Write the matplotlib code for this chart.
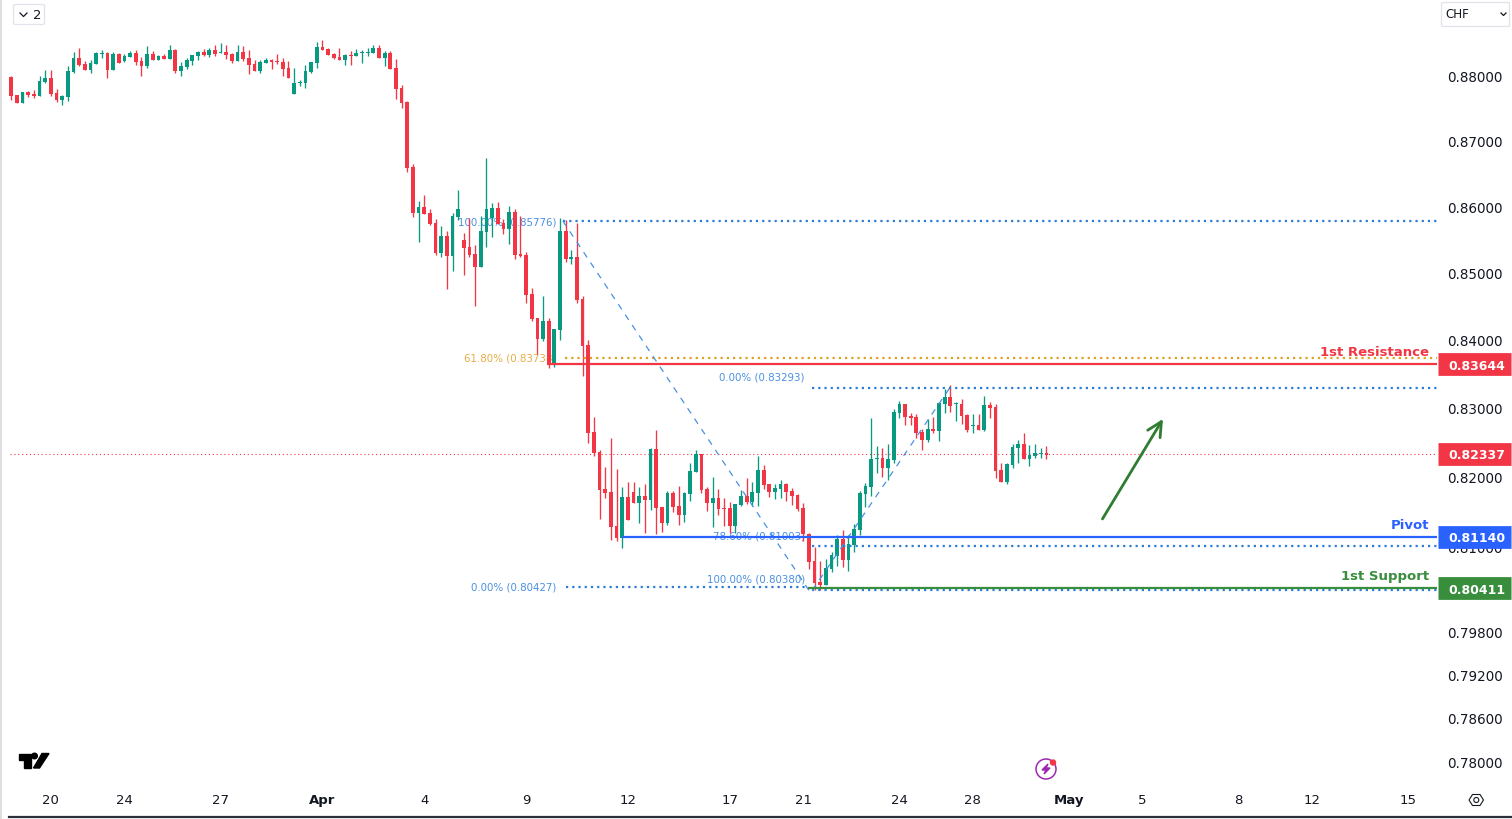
import matplotlib
matplotlib.use('Agg')
import matplotlib.pyplot as plt
import matplotlib.patches as patches
from matplotlib.lines import Line2D
import numpy as np

# 4h candles
opens = [
    0.87977, 0.87698, 0.87574, 0.87744, 0.87713, 0.87682, 0.87899, 0.87961, 0.87729, 0.87620,
    0.87667, 0.88054, 0.88271, 0.88178, 0.88085, 0.88178, 0.88333, 0.88348, 0.88085, 0.88333,
    0.88224, 0.88286, 0.88348, 0.88224, 0.88147, 0.88333, 0.88240, 0.88302, 0.88255, 0.88395,
    0.88070, 0.88132, 0.88224, 0.88302, 0.88364, 0.88317, 0.88395, 0.88348, 0.88364, 0.88333,
    0.88224, 0.88364, 0.88271, 0.88178, 0.88070, 0.88193, 0.88240, 0.88224, 0.88209, 0.88116,
    0.87713, 0.87884, 0.87884, 0.88054, 0.88193, 0.88441, 0.88410, 0.88333, 0.88286, 0.88240,
    0.88317, 0.88302, 0.88348, 0.88348, 0.88348, 0.88426, 0.88271, 0.88348, 0.88116, 0.87806,
    0.87589, 0.86596, 0.85897, 0.85987, 0.85897, 0.85746, 0.85294, 0.85551, 0.85249, 0.85837,
    0.85490, 0.85385, 0.85279, 0.85084, 0.85611, 0.85822, 0.85972, 0.85746, 0.85656, 0.85912,
    0.85279, 0.85264, 0.84680, 0.84324, 0.84012, 0.84279, 0.83632, 0.84146, 0.85626, 0.85204,
    0.85234, 0.84606, 0.83925, 0.82651, 0.82361, 0.81825, 0.81782, 0.81294, 0.81122, 0.81710,
    0.81782, 0.81624, 0.81725, 0.81667, 0.82404, 0.81567, 0.81337, 0.81768, 0.81581, 0.81452,
    0.81753, 0.82070, 0.82331, 0.81825, 0.81624, 0.81696, 0.81553, 0.81553, 0.81294, 0.81596,
    0.81725, 0.81639, 0.81768, 0.82099, 0.81897, 0.81782, 0.81825, 0.81897, 0.81796, 0.81739,
    0.81553, 0.81179, 0.80796, 0.80498, 0.80455, 0.80682, 0.80867, 0.81108, 0.80810, 0.81022,
    0.81237, 0.81753, 0.81853, 0.82260, 0.82275, 0.82130, 0.82246, 0.82927, 0.83059, 0.82884,
    0.82869, 0.82652, 0.82536, 0.82695, 0.82666, 0.83059, 0.83161, 0.83059, 0.83059, 0.82898,
    0.82738, 0.82753, 0.82681, 0.83044, 0.83015, 0.82101, 0.81925, 0.82173, 0.82420, 0.82478,
    0.82260, 0.82304, 0.82333, 0.82347,
]
highs = [
    0.87992, 0.87698, 0.87744, 0.87760, 0.87775, 0.87992, 0.88085, 0.88085, 0.87791, 0.87698,
    0.88147, 0.88364, 0.88426, 0.88224, 0.88240, 0.88364, 0.88395, 0.88364, 0.88364, 0.88348,
    0.88333, 0.88379, 0.88395, 0.88286, 0.88457, 0.88379, 0.88317, 0.88333, 0.88472, 0.88410,
    0.88209, 0.88271, 0.88317, 0.88379, 0.88410, 0.88426, 0.88472, 0.88503, 0.88472, 0.88348,
    0.88472, 0.88457, 0.88395, 0.88240, 0.88240, 0.88271, 0.88255, 0.88333, 0.88271, 0.88224,
    0.88116, 0.87930, 0.88162, 0.88209, 0.88519, 0.88550, 0.88426, 0.88348, 0.88426, 0.88333,
    0.88379, 0.88410, 0.88395, 0.88426, 0.88472, 0.88472, 0.88379, 0.88379, 0.88255, 0.87853,
    0.87605, 0.86642, 0.86079, 0.86170, 0.85957, 0.85806, 0.85701, 0.85626, 0.85897, 0.86246,
    0.85596, 0.85822, 0.85415, 0.85852, 0.86733, 0.86049, 0.86060, 0.85806, 0.86003, 0.85957,
    0.85852, 0.85310, 0.84769, 0.84324, 0.84650, 0.84324, 0.84160, 0.85822, 0.85791, 0.85340,
    0.85746, 0.84650, 0.83998, 0.82869, 0.82390, 0.82143, 0.82564, 0.82114, 0.81854, 0.81925,
    0.81925, 0.81854, 0.81897, 0.82419, 0.82680, 0.81567, 0.81796, 0.81796, 0.81868, 0.81782,
    0.82201, 0.82390, 0.82331, 0.81854, 0.81997, 0.81825, 0.81696, 0.81639, 0.81610, 0.81811,
    0.81983, 0.81925, 0.82302, 0.82172, 0.81897, 0.81897, 0.81954, 0.81911, 0.81839, 0.81753,
    0.81624, 0.81194, 0.80994, 0.80796, 0.80824, 0.80923, 0.81165, 0.81237, 0.81165, 0.81323,
    0.81796, 0.81911, 0.82855, 0.82449, 0.82420, 0.82478, 0.82985, 0.83103, 0.83059, 0.82927,
    0.82913, 0.82695, 0.82840, 0.82869, 0.83088, 0.83279, 0.83337, 0.83088, 0.83132, 0.82913,
    0.82913, 0.82913, 0.83176, 0.83088, 0.83059, 0.82203, 0.82203, 0.82478, 0.82536, 0.82637,
    0.82463, 0.82478, 0.82420, 0.82449,
]
lows = [
    0.87620, 0.87574, 0.87574, 0.87667, 0.87651, 0.87682, 0.87884, 0.87682, 0.87589, 0.87543,
    0.87605, 0.88039, 0.88147, 0.88085, 0.88039, 0.88178, 0.88271, 0.87961, 0.88085, 0.88193,
    0.88209, 0.88286, 0.88162, 0.87992, 0.88116, 0.88240, 0.88240, 0.88255, 0.88255, 0.88039,
    0.87992, 0.88101, 0.88162, 0.88240, 0.88302, 0.88286, 0.88302, 0.88348, 0.88255, 0.88193,
    0.88224, 0.88224, 0.88023, 0.88070, 0.88039, 0.88193, 0.88101, 0.88178, 0.87992, 0.87961,
    0.87713, 0.87837, 0.87806, 0.88039, 0.88116, 0.88395, 0.88317, 0.88255, 0.88240, 0.88162,
    0.88162, 0.88302, 0.88193, 0.88302, 0.88348, 0.88271, 0.88147, 0.88101, 0.87636, 0.87497,
    0.86520, 0.85837, 0.85460, 0.85882, 0.85716, 0.85264, 0.85234, 0.84754, 0.85024, 0.85791,
    0.84962, 0.85234, 0.84502, 0.85084, 0.85385, 0.85536, 0.85731, 0.85581, 0.85430, 0.85204,
    0.85234, 0.84546, 0.84279, 0.83793, 0.83984, 0.83588, 0.83603, 0.83998, 0.85159, 0.85129,
    0.84546, 0.83470, 0.82491, 0.82302, 0.81395, 0.81696, 0.81093, 0.81079, 0.80980, 0.81381,
    0.81624, 0.81337, 0.81194, 0.81524, 0.81179, 0.81208, 0.81309, 0.81495, 0.81309, 0.81352,
    0.81653, 0.82070, 0.81768, 0.81510, 0.81280, 0.81452, 0.81294, 0.81194, 0.81194, 0.81581,
    0.81610, 0.81581, 0.81581, 0.81825, 0.81710, 0.81682, 0.81696, 0.81653, 0.81596, 0.81510,
    0.81079, 0.80681, 0.80384, 0.80384, 0.80455, 0.80640, 0.80725, 0.80710, 0.80654, 0.80923,
    0.81165, 0.81567, 0.81725, 0.82057, 0.81997, 0.81954, 0.82203, 0.82855, 0.82753, 0.82753,
    0.82565, 0.82391, 0.82507, 0.82637, 0.82521, 0.82927, 0.82942, 0.82811, 0.82768, 0.82652,
    0.82637, 0.82681, 0.82666, 0.82855, 0.81983, 0.81925, 0.81897, 0.82130, 0.82203, 0.82260,
    0.82159, 0.82275, 0.82275, 0.82260,
]
closes = [
    0.87682, 0.87574, 0.87744, 0.87698, 0.87682, 0.87915, 0.87961, 0.87713, 0.87620, 0.87682,
    0.88070, 0.88271, 0.88162, 0.88085, 0.88193, 0.88348, 0.88348, 0.88085, 0.88333, 0.88193,
    0.88302, 0.88348, 0.88209, 0.88147, 0.88333, 0.88240, 0.88302, 0.88255, 0.88395, 0.88070,
    0.88147, 0.88240, 0.88317, 0.88364, 0.88317, 0.88395, 0.88333, 0.88364, 0.88317, 0.88224,
    0.88364, 0.88255, 0.88162, 0.88070, 0.88209, 0.88240, 0.88209, 0.88209, 0.88101, 0.87961,
    0.87884, 0.87899, 0.88070, 0.88209, 0.88441, 0.88395, 0.88317, 0.88271, 0.88240, 0.88317,
    0.88302, 0.88348, 0.88364, 0.88364, 0.88426, 0.88271, 0.88348, 0.88101, 0.87791, 0.87574,
    0.86581, 0.85897, 0.85987, 0.85882, 0.85731, 0.85294, 0.85551, 0.85249, 0.85852, 0.85957,
    0.85370, 0.85264, 0.85084, 0.85626, 0.85957, 0.85972, 0.85731, 0.85656, 0.85912, 0.85264,
    0.85249, 0.84665, 0.84309, 0.84012, 0.84279, 0.83632, 0.84160, 0.85626, 0.85204, 0.85234,
    0.84591, 0.83910, 0.82636, 0.82346, 0.81811, 0.81768, 0.81280, 0.81122, 0.81710, 0.81381,
    0.81624, 0.81725, 0.81667, 0.82404, 0.81553, 0.81337, 0.81768, 0.81567, 0.81452, 0.81768,
    0.82085, 0.82331, 0.81811, 0.81624, 0.81696, 0.81538, 0.81538, 0.81294, 0.81610, 0.81725,
    0.81639, 0.81782, 0.82099, 0.81882, 0.81782, 0.81839, 0.81897, 0.81782, 0.81725, 0.81538,
    0.81179, 0.80781, 0.80483, 0.80455, 0.80696, 0.80881, 0.81108, 0.80810, 0.81036, 0.81251,
    0.81768, 0.81868, 0.82260, 0.82275, 0.82130, 0.82260, 0.82942, 0.83059, 0.82869, 0.82855,
    0.82637, 0.82536, 0.82695, 0.82666, 0.83073, 0.83161, 0.83029, 0.83073, 0.82884, 0.82681,
    0.82753, 0.82681, 0.83044, 0.83000, 0.82086, 0.81925, 0.82188, 0.82434, 0.82478, 0.82260,
    0.82318, 0.82347, 0.82347, 0.82318,
]

price_ticks = [0.88, 0.87, 0.86, 0.85, 0.84, 0.83, 0.82, 0.81, 0.798, 0.792, 0.786, 0.78]
date_ticks = [7, 20, 37, 55, 73, 91, 109, 127, 140, 157, 170, 187, 200, 217, 230, 247]
date_labels = ['20', '24', '27', 'Apr', '4', '9', '12', '17', '21', '24', '28', 'May', '5', '8', '12', '15']

# key levels
resistance = 0.83644
pivot = 0.81140
support = 0.80411
last_price = 0.82337

# fibonacci drawings
fib_high = 0.85776
fib_618 = 0.83738
fib_low = 0.80427
fib2_high = 0.83293
fib2_786 = 0.81003
fib2_low = 0.80380

RED = '#f23645'
GREEN = '#089981'
BLUE = '#2962ff'
DKGREEN = '#388e3c'
FIB = '#2d7fd6'
FIBTXT = '#4a90e2'
ORANGE = '#e0a020'
END = 252.1

W, H = 1512, 820
fig = plt.figure(figsize=(W / 100, H / 100), dpi=100)
ax = fig.add_axes([0, 0, 1, 1])
ax.set_yscale('log')

idx = np.arange(len(opens))
o = np.array(opens)
h = np.array(highs)
l = np.array(lows)
c = np.array(closes)
cols = [GREEN if b >= a else RED for a, b in zip(o, c)]

ax.vlines(idx, l, h, colors=cols, linewidth=0.95, zorder=3)
ax.bar(idx, np.maximum(np.abs(c - o), 0.00012), bottom=np.minimum(o, c), width=0.66, color=cols, linewidth=0, zorder=3)

ax.hlines(last_price, -0.2, END, colors=RED, linewidth=0.8, linestyles=(0, (1, 2.5)), zorder=1)

dots = (0, (1, 1.8))
ax.hlines(fib_high, 97.5, END, colors=FIB, linewidth=1.6, linestyles=dots, zorder=4)
ax.hlines(fib_618, 97.9, END, colors=ORANGE, linewidth=1.6, linestyles=dots, zorder=4)
ax.hlines(fib_low, 98, 140.8, colors=FIB, linewidth=1.6, linestyles=dots, zorder=4)
ax.hlines(fib2_high, 141.6, END, colors=FIB, linewidth=1.6, linestyles=dots, zorder=4)
ax.hlines(fib2_786, 141.6, END, colors=FIB, linewidth=1.6, linestyles=dots, zorder=4)
ax.hlines(fib2_low, 141.6, END, colors=FIB, linewidth=1.6, linestyles=dots, zorder=4)

ax.plot([97.5, 141], [fib_high, fib2_low], color=FIBTXT, linewidth=0.9, linestyle=(0, (5, 5)), zorder=4)
ax.plot([141.6, 165.9], [fib2_low, fib2_high], color=FIBTXT, linewidth=0.9, linestyle=(0, (5, 5)), zorder=4)

ax.hlines(resistance, 94.8, END, colors=RED, linewidth=1.6, zorder=5)
ax.hlines(pivot, 107.9, END, colors=BLUE, linewidth=1.6, zorder=5)
ax.hlines(support, 140.8, END, colors=DKGREEN, linewidth=1.6, zorder=5)


def fib_label(text, x, price, dy=0, color=FIBTXT):
    ax.annotate(text, (x, price), xytext=(0, dy), textcoords='offset points', ha='right', va='center',
                fontsize=7.4, color=color, zorder=2)


fib_label('100.00% (0.85776)', 96.3, fib_high)
fib_label('61.80% (0.83738)', 96.3, fib_618, color='#e5ac45')
fib_label('0.00% (0.80427)', 96.3, fib_low)
fib_label('0.00% (0.83293)', 140.3, fib2_high, dy=8.5)
fib_label('78.60% (0.81003)', 140.3, fib2_786, dy=8)
fib_label('100.00% (0.80380)', 140.3, fib2_low, dy=8.5)

ax.annotate('', xy=(203.6, 0.82840), xytext=(192.9, 0.81395),
            arrowprops=dict(arrowstyle='->', color='#2e7d32', linewidth=2, mutation_scale=26, shrinkA=0, shrinkB=0))

# level titles and price tags on the right
yt = ax.get_yaxis_transform()
tags = [(resistance, RED, '1st Resistance'), (last_price, RED, None), (pivot, BLUE, 'Pivot'), (support, DKGREEN, '1st Support')]
for p, col, title in tags:
    ax.annotate('', (1438 / W, p), xycoords=yt)
    ax.plot([1438 / W, 1511 / W], [p, p], transform=yt, color=col, linewidth=16.4, solid_capstyle='butt', zorder=6)
    ax.annotate('%.5f' % p, (1448 / W, p), xycoords=yt, xytext=(0, -0.7), textcoords='offset points',
                color='white', fontsize=9, fontweight='bold', va='center', ha='left', zorder=7)
    if title:
        ax.annotate(title, (1429 / W, p), xycoords=yt, xytext=(0, 4.3), textcoords='offset points', ha='right', va='bottom',
                    color=col, fontsize=9.5, fontweight='bold', zorder=7)

ax.set_xlim(-2.0, 265.3)
ax.set_ylim(0.77209, 0.89193)
ax.set_yticks(price_ticks, labels=['%.5f' % t for t in price_ticks])
ax.minorticks_off()
ax.yaxis.tick_right()
ax.tick_params(axis='y', length=0, pad=-46.7, labelsize=9.75, labelcolor='#131722')
ax.set_xticks(date_ticks, labels=date_labels)
ax.tick_params(axis='x', length=0, pad=-18.5, labelsize=9.5, labelcolor='#131722')
for lab in ax.get_xticklabels():
    if lab.get_text() in ('Apr', 'May'):
        lab.set_fontweight('bold')
for s in ax.spines.values():
    s.set_visible(False)


# chrome drawn in pixel coordinates of the figure
def pt(x, y):
    return x / W, 1 - y / H


def fig_line(xs, ys, **kw):
    fig.add_artist(Line2D([x / W for x in xs], [1 - y / H for y in ys], **kw))


fig_line([9, W], [818, 818], color='#2a2e39', linewidth=1.6)
fig_line([0.7, 0.7], [0, H], color='#d8d8d8', linewidth=1.2)

# logo
fig.add_artist(patches.Polygon([pt(19, 754.5), pt(31, 754.5), pt(31, 769), pt(24, 769), pt(24, 761), pt(19, 761)],
                               closed=True, color='black', transform=fig.transFigure))
fig.add_artist(patches.Ellipse(pt(34.5, 757), 5.6 / W, 5.6 / H, color='black', transform=fig.transFigure))
fig.add_artist(patches.Polygon([pt(42, 754.5), pt(49, 754.5), pt(39.5, 769), pt(33.5, 769)],
                               closed=True, color='black', transform=fig.transFigure))

# bolt badge
fig.add_artist(patches.Ellipse(pt(1046, 770), 20 / W, 20 / H, facecolor='none', edgecolor='#9c27b0', linewidth=1.1, transform=fig.transFigure))
fig.add_artist(patches.Polygon([pt(1048, 765), pt(1042, 771), pt(1046, 771), pt(1044, 775), pt(1050, 769), pt(1046, 769)],
                               closed=True, color='#9c27b0', transform=fig.transFigure))
fig.add_artist(patches.Ellipse(pt(1053, 763.5), 5 / W, 5 / H, color=RED, transform=fig.transFigure))

# settings hexagon
fig.add_artist(patches.Polygon([pt(1469, 801), pt(1472.5, 795.5), pt(1480, 795.5), pt(1483.5, 801), pt(1480, 806.5), pt(1472.5, 806.5)],
                               closed=True, facecolor='none', edgecolor='#131722', linewidth=0.8, transform=fig.transFigure))
fig.add_artist(patches.Ellipse(pt(1476.3, 801), 5 / W, 5 / H, facecolor='none', edgecolor='#131722', linewidth=0.8, transform=fig.transFigure))

# top buttons
for x0, y0, bw, bh in [(13.5, 5.5, 31, 20), (1441.5, 3.5, 68, 24)]:
    fig.add_artist(patches.FancyBboxPatch(pt(x0, y0 + bh), bw / W, bh / H, boxstyle='round,pad=0,rounding_size=0.002',
                                          mutation_aspect=H / W, facecolor='white', edgecolor='#e0e3eb', linewidth=0.9,
                                          transform=fig.transFigure))
fig_line([20, 23.5, 27], [14, 17.5, 14], color='#131722', linewidth=0.9)
fig.text(*pt(33, 15.5), '2', fontsize=9.5, color='#131722', va='center')
fig.text(*pt(1445, 15), 'CHF', fontsize=8.6, color='#131722', va='center')
fig_line([1501, 1503.5, 1506], [14, 16.5, 14], color='#131722', linewidth=0.9)

fig.savefig('out.png', dpi=100)
